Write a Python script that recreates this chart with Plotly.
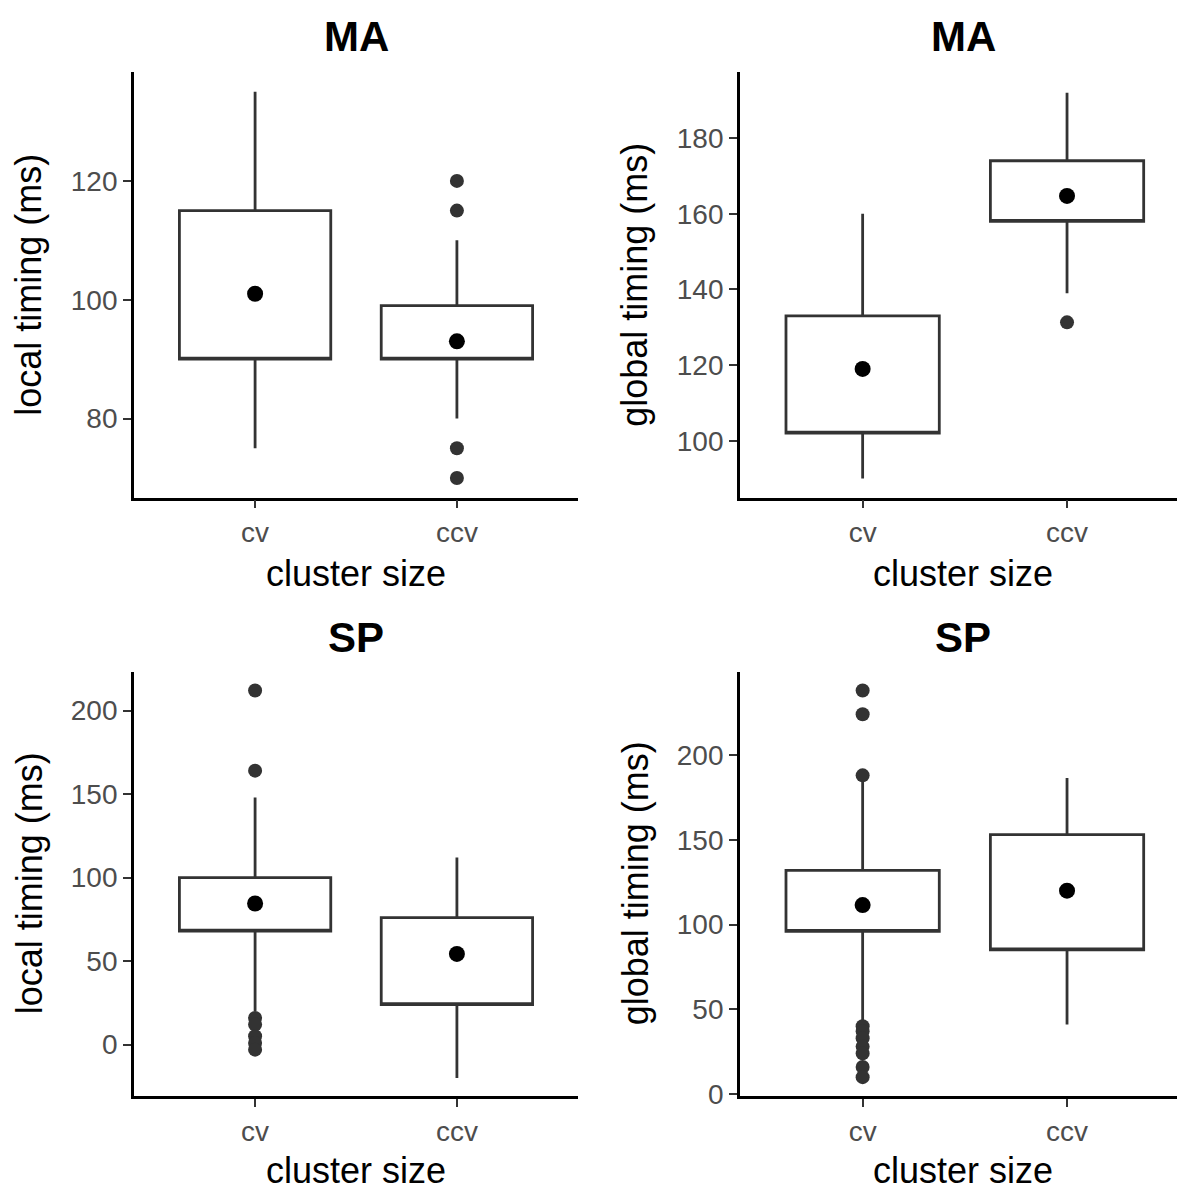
import plotly.graph_objects as go

# ---------------- data ----------------
categories = ["cv", "ccv"]
cat_pos = [0, 1]

# MA - local timing
ma_local_q1 = [90, 90]
ma_local_q3 = [115, 99]
ma_local_lo = [75, 80]
ma_local_hi = [135, 110]
ma_local_mean = [101, 93]
ma_local_out_cv = []
ma_local_out_ccv = [120, 115, 75, 70]

# MA - global timing
ma_global_q1 = [102, 158]
ma_global_q3 = [133, 174]
ma_global_lo = [90, 139]
ma_global_hi = [160, 192]
ma_global_mean = [119, 164.7]
ma_global_out_cv = []
ma_global_out_ccv = [131.3]

# SP - local timing
sp_local_q1 = [68, 24]
sp_local_q3 = [100, 76]
sp_local_lo = [20, -20]
sp_local_hi = [148, 112]
sp_local_mean = [84.5, 54.3]
sp_local_out_cv = [212, 164, 16, 12, 5, 1, -3]
sp_local_out_ccv = []

# SP - global timing
sp_global_q1 = [96, 85]
sp_global_q3 = [132, 153]
sp_global_lo = [42, 41]
sp_global_hi = [185, 186.5]
sp_global_mean = [111.5, 120]
sp_global_out_cv = [238, 224, 188, 40, 37, 33, 28, 24, 16, 10]
sp_global_out_ccv = []

panels = [
    dict(q1=ma_local_q1, q3=ma_local_q3, lo=ma_local_lo, hi=ma_local_hi,
         mean=ma_local_mean, out=[ma_local_out_cv, ma_local_out_ccv]),
    dict(q1=ma_global_q1, q3=ma_global_q3, lo=ma_global_lo, hi=ma_global_hi,
         mean=ma_global_mean, out=[ma_global_out_cv, ma_global_out_ccv]),
    dict(q1=sp_local_q1, q3=sp_local_q3, lo=sp_local_lo, hi=sp_local_hi,
         mean=sp_local_mean, out=[sp_local_out_cv, sp_local_out_ccv]),
    dict(q1=sp_global_q1, q3=sp_global_q3, lo=sp_global_lo, hi=sp_global_hi,
         mean=sp_global_mean, out=[sp_global_out_cv, sp_global_out_ccv]),
]

titles = ["MA", "MA", "SP", "SP"]
y_titles = ["local timing (ms)", "global timing (ms)", "local timing (ms)", "global timing (ms)"]
x_title = "cluster size"

y_ranges = [[66.7, 138.3], [85, 197.4], [-31, 223.1], [-1.4, 249]]
y_ticks = [[80, 100, 120], [100, 120, 140, 160, 180], [0, 50, 100, 150, 200], [0, 50, 100, 150, 200]]

# ---------------- figure ----------------
W, H = 1177, 1196
FONT = "Liberation Sans, Arial, Helvetica, sans-serif"
BOXCOL = "#333333"

fig = go.Figure()

for i, p in enumerate(panels):
    sfx = "" if i == 0 else str(i + 1)
    xa, ya = "x" + sfx, "y" + sfx
    # box (median line hidden in the reference: placed on the lower hinge)
    fig.add_trace(go.Box(
        x=cat_pos, q1=p["q1"], median=p["q1"], q3=p["q3"],
        lowerfence=p["lo"], upperfence=p["hi"],
        width=0.75, whiskerwidth=0,
        fillcolor="white", line=dict(color=BOXCOL, width=2.8),
        boxpoints=False, xaxis=xa, yaxis=ya, showlegend=False, hoverinfo="skip"))
    # outliers
    ox, oy = [], []
    for c, vals in zip(cat_pos, p["out"]):
        ox += [c] * len(vals)
        oy += vals
    if oy:
        fig.add_trace(go.Scatter(x=ox, y=oy, mode="markers",
                                 marker=dict(color=BOXCOL, size=14, line=dict(width=0)),
                                 xaxis=xa, yaxis=ya, showlegend=False, hoverinfo="skip"))
    # means
    fig.add_trace(go.Scatter(x=cat_pos, y=p["mean"], mode="markers",
                             marker=dict(color="black", size=16, line=dict(width=0)),
                             xaxis=xa, yaxis=ya, showlegend=False, hoverinfo="skip"))

left_dom = [134 / W, 578 / W]
right_dom = [740 / W, 1.0]
top_dom = [1 - 503 / H, 1 - 73 / H]
bot_dom = [1 - 1108.5 / H, 1 - 679.3 / H]
x_doms = [left_dom, right_dom, left_dom, right_dom]
y_doms = [top_dom, top_dom, bot_dom, bot_dom]
x_ranges = [[-0.6, 1.6], [-0.6, 1.538], [-0.6, 1.6], [-0.6, 1.538]]

axis_common = dict(showline=True, linecolor="black", linewidth=2.8, ticks="outside",
                   ticklen=8, tickwidth=2.2, tickcolor=BOXCOL, showgrid=False, zeroline=False,
                   tickfont=dict(family=FONT, size=28, color="#4D4D4D"))

layout = dict(width=W, height=H, margin=dict(l=0, r=0, t=0, b=0),
              plot_bgcolor="white", paper_bgcolor="white", showlegend=False)
for i in range(4):
    sfx = "" if i == 0 else str(i + 1)
    layout["xaxis" + sfx] = dict(domain=x_doms[i], range=x_ranges[i], tickvals=cat_pos,
                                 ticktext=categories, anchor="y" + sfx, **axis_common)
    layout["yaxis" + sfx] = dict(domain=y_doms[i], range=y_ranges[i], tickvals=y_ticks[i],
                                 anchor="x" + sfx, **axis_common)
fig.update_layout(**layout)

centers_x = [356 / W, 963 / W, 356 / W, 963 / W]
title_y = [1 - 37 / H, 1 - 37 / H, 1 - 645 / H, 1 - 645 / H]
xt_y = [1 - 580 / H, 1 - 580 / H, 1 - 1183 / H, 1 - 1183 / H]
yt_x = [29 / W, 635 / W, 29 / W, 635 / W]
yt_y = [1 - 288 / H, 1 - 288 / H, 1 - 893 / H, 1 - 893 / H]

for i in range(4):
    fig.add_annotation(text="<b>%s</b>" % titles[i], x=centers_x[i], y=title_y[i],
                       xref="paper", yref="paper", showarrow=False,
                       xanchor="center", yanchor="middle",
                       font=dict(family=FONT, size=42, color="black"))
    fig.add_annotation(text=x_title, x=centers_x[i], y=xt_y[i],
                       xref="paper", yref="paper", showarrow=False,
                       xanchor="center", yanchor="middle",
                       font=dict(family=FONT, size=36, color="black"))
    fig.add_annotation(text=y_titles[i], x=yt_x[i], y=yt_y[i], textangle=-90,
                       xref="paper", yref="paper", showarrow=False,
                       xanchor="center", yanchor="middle",
                       font=dict(family=FONT, size=36, color="black"))

fig.write_html("out.html")
